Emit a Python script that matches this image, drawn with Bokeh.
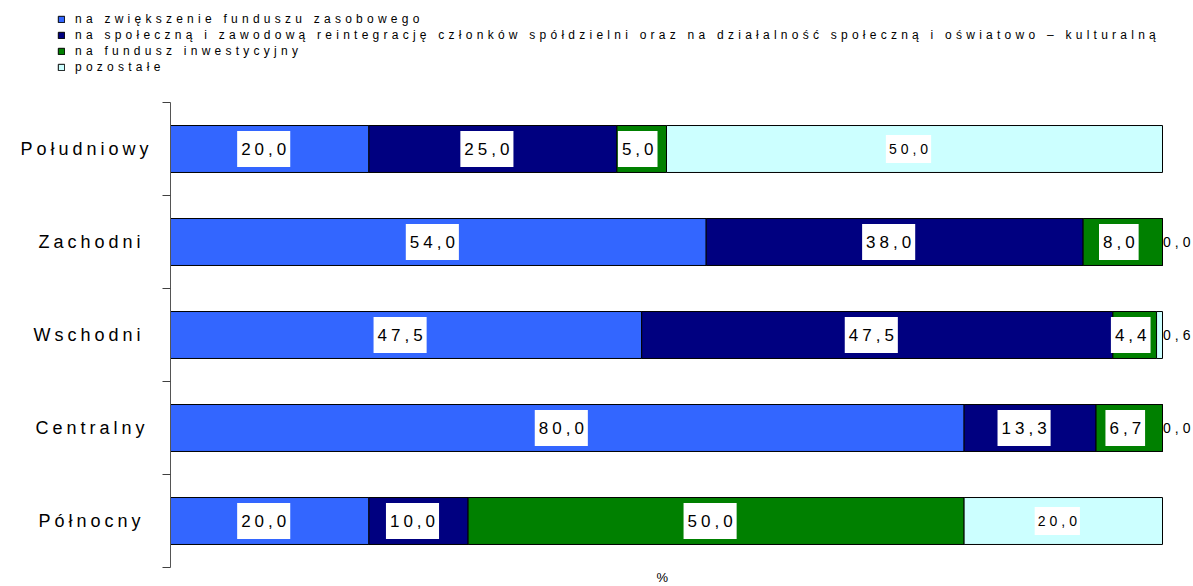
from bokeh.plotting import figure
from bokeh.models import (ColumnDataSource, Range1d, FixedTicker, Legend, LegendItem,
                          InlineStyleSheet, Title)
from bokeh.layouts import column
from bokeh.core.properties import value
from bokeh.embed import file_html
from bokeh.resources import INLINE

regions = ["Północny", "Centralny", "Wschodni", "Zachodni", "Południowy"]
series = [
    "na zwiększenie funduszu zasobowego",
    "na społeczną i zawodową reintegrację członków spółdzielni oraz na działalność społeczną i oświatowo – kulturalną",
    "na fundusz inwestycyjny",
    "pozostałe",
]
s1 = [20.0, 80.0, 47.5, 54.0, 20.0]
s2 = [10.0, 13.3, 47.5, 38.0, 25.0]
s3 = [50.0, 6.7, 4.4, 8.0, 5.0]
s4 = [20.0, 0.0, 0.6, 0.0, 50.0]
colors = ["#3366FF", "#000080", "#008000", "#CCFFFF"]
x_title = "%"

FONT = "Liberation Sans"
LS = 4  # letter spacing of the main chart, px
keys = ["s1", "s2", "s3", "s4"]
ypos = [i + 0.5 for i in range(len(regions))]
src = ColumnDataSource(dict(y=ypos, s1=s1, s2=s2, s3=s3, s4=s4))

# ---------------- legend strip ----------------
lp = figure(width=1193, height=90, output_backend="svg", toolbar_location=None,
            x_axis_type=None, y_axis_type=None, x_range=Range1d(0, 1), y_range=Range1d(100, 101),
            min_border=0)
lp.frame_align = False
lp.outline_line_color = None
lp.grid.visible = False
lp.stylesheets = [InlineStyleSheet(css=":host { letter-spacing: 4.25px; }")]
lrs = lp.hbar_stack(keys, y="y", height=0.5, color=colors, source=src,
                    line_color="#000000", line_width=1)
legend = Legend(items=[LegendItem(label=s, renderers=[r]) for s, r in zip(series, lrs)],
                location=(57, 15))
legend.border_line_color = None
legend.background_fill_alpha = 0
legend.padding = 0
legend.margin = 0
legend.spacing = 0
legend.glyph_width = 8
legend.glyph_height = 8
legend.label_height = 16
legend.label_standoff = 10
legend.label_text_font = FONT
legend.label_text_font_size = "12px"
legend.label_text_color = "black"
lp.add_layout(legend, "center")

# ---------------- main chart ----------------
p = figure(width=1193, height=496, output_backend="svg", toolbar_location=None,
           x_range=Range1d(0, 1023 / 9.92), y_range=Range1d(0, 5),
           min_border_left=170, min_border_right=0, min_border_top=12, min_border_bottom=19)
p.frame_align = False
p.outline_line_color = None
p.grid.visible = False
p.stylesheets = [InlineStyleSheet(css=":host { letter-spacing: %dpx; }" % LS)]

rs = p.hbar_stack(keys, y="y", height=0.505, color=colors, source=src,
                  line_color="#000000", line_width=1)

# value labels, derived from the data
groups = {}
outside = dict(x=[], y=[], t=[])
for i, y in enumerate(ypos):
    left = 0.0
    for k, arr in enumerate([s1, s2, s3, s4]):
        v = arr[i]
        txt = f"{v:.1f}".replace(".", ",")
        if v < 1.0:
            outside["x"].append(left + v + 0.05)
            outside["y"].append(y)
            outside["t"].append(txt)
        else:
            g = groups.setdefault((k == 3, len(txt)), dict(x=[], y=[], t=[]))
            g["x"].append(left + v / 2)
            g["y"].append(y)
            g["t"].append(txt)
        left += v

for (is_small, n), g in groups.items():
    extra = (n - 1) * LS
    fs = "14px" if is_small else "17px"
    ph = 3 if is_small else 4
    pv = 9 if is_small else 12
    p.text(x="x", y="y", text="t", source=ColumnDataSource(g), text_font=value(FONT),
           text_font_size=fs, text_align="center", text_baseline="middle", text_color="black",
           background_fill_color="white", x_offset=-extra / 2,
           padding=dict(left=ph, right=ph + extra, top=pv, bottom=pv))
p.text(x="x", y="y", text="t", source=ColumnDataSource(outside), text_font=value(FONT),
       text_font_size="14px", text_align="left", text_baseline="middle", text_color="black")

# axes
ya = p.yaxis[0]
ya.ticker = FixedTicker(ticks=ypos, minor_ticks=[0, 1, 2, 3, 4, 5])
ya.major_label_overrides = {y: r for y, r in zip(ypos, regions)}
ya.major_tick_line_color = None
ya.major_tick_out = 0
ya.minor_tick_out = 8
ya.minor_tick_in = 0
ya.minor_tick_line_color = "#404040"
ya.axis_line_color = "#555555"
ya.major_label_text_font = FONT
ya.major_label_text_font_size = "18px"
ya.major_label_text_color = "black"
ya.major_label_standoff = 50

p.xaxis.visible = False
p.add_layout(Title(text=x_title, align="left", offset=486, text_font=FONT,
                   text_font_size="13px", text_font_style="normal", text_color="black",
                   standoff=0), "below")

layout = column(lp, p, spacing=0)
open("out.html", "w").write(file_html(layout, INLINE))
